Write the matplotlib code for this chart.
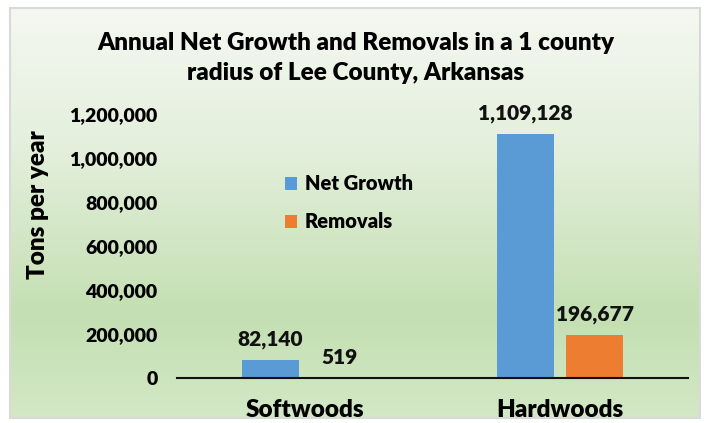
import matplotlib
matplotlib.use("Agg")
import matplotlib.pyplot as plt
import numpy as np
from matplotlib.colors import LinearSegmentedColormap
from matplotlib.patches import Rectangle

categories = ["Softwoods", "Hardwoods"]
net_growth = [82140, 1109128]
removals = [519, 196677]
series_names = ["Net Growth", "Removals"]
yticks = [0, 200000, 400000, 600000, 800000, 1000000, 1200000]

FONT = ["Lato", "DejaVu Sans"]
plt.rcParams['font.family'] = FONT
WT = "heavy"

fig = plt.figure(figsize=(7.11, 4.23), dpi=100)

# background gradient
bg = fig.add_axes([10/711, 1-418/423, 690/711, 410/423], zorder=-10)
cmap = LinearSegmentedColormap.from_list("g", [(0, "#f5f8f2"), (0.35, "#e3efdb"), (0.75, "#c4dfb2"), (1.0, "#d3e8c6")])
grad = np.linspace(0, 1, 256).reshape(-1, 1)
bg.imshow(grad, aspect="auto", cmap=cmap, extent=[0, 1, 1, 0])
bg.set_xlim(0, 1); bg.set_ylim(1, 0)
bg.axis("off")
fig.patches.append(Rectangle((10/711, 1-418/423), 690/711, 410/423, transform=fig.transFigure,
                             fill=False, edgecolor="#d9d9d9", linewidth=1.5, zorder=-5))

ax = fig.add_axes([177/711, 1-378/423, 511/711, (378-114)/423])
ax.patch.set_alpha(0)
x = np.arange(len(categories))
w = 0.223
off = 0.135
b1 = ax.bar(x - off, net_growth, w, color="#5b9bd5", label=series_names[0])
b2 = ax.bar(x + off, removals, w, color="#ed7d31", label=series_names[1])
for bars, vals in ((b1, net_growth), (b2, removals)):
    for r, v in zip(bars, vals):
        ax.text(r.get_x() + r.get_width()/2, v + 50000, f"{v:,}", ha="center", va="bottom",
                fontsize=15, fontweight=WT, color="#111111", clip_on=False)

ax.set_xlim(-0.5, 1.5)
ax.set_ylim(0, 1200000)
ax.set_yticks(yticks)
ax.set_yticklabels([f"{t:,}" for t in yticks], fontsize=14, fontweight=WT)
ax.set_xticks(x)
ax.set_xticklabels(categories, fontsize=17.5, fontweight=WT)
ax.tick_params(axis="y", length=0, pad=14)
ax.tick_params(axis="x", length=0, pad=15)
for s in ["top", "right", "left"]:
    ax.spines[s].set_visible(False)
ax.spines["bottom"].set_linewidth(1.5)
ax.spines["bottom"].set_color("#111111")
ax.set_ylabel("Tons per year", fontsize=17.5, fontweight=WT)
ax.yaxis.set_label_coords(-0.25, 0.655)

leg = ax.legend(loc="upper left", bbox_to_anchor=(0.175, 0.84), frameon=False,
                prop={"size": 14.5, "weight": WT, "family": FONT},
                handlelength=0.6, handleheight=0.6, handletextpad=0.4, labelspacing=0.95)

fig.text(0.5, 1-43/423, "Annual Net Growth and Removals in a 1 county", ha="center", va="center",
         fontsize=17.5, fontweight=WT)
fig.text(0.5, 1-73/423, "radius of Lee County, Arkansas", ha="center", va="center",
         fontsize=17.5, fontweight=WT)

fig.savefig("out.png", dpi=100)
